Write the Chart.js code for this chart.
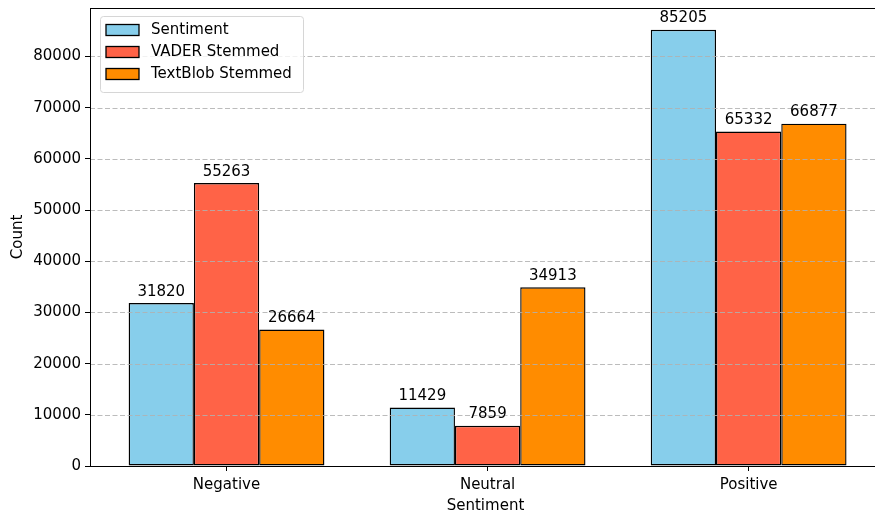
<!DOCTYPE html>
<html>
<head>
<meta charset="utf-8">
<script src="https://cdn.jsdelivr.net/npm/chart.js@4.4.1/dist/chart.umd.min.js"></script>
<style>
  body { margin: 0; overflow: hidden; background: #fff; }
  #wrap { width: 890px; height: 515px; }
</style>
</head>
<body>
<div id="wrap"><canvas id="sentChart" width="890" height="515"></canvas></div>
<script>
// categories and counts per method
var cats = ["Negative", "Neutral", "Positive"];
var seriesNames = ["Sentiment", "VADER Stemmed", "TextBlob Stemmed"];
var sentimentVals = [31820, 11429, 85205];
var vaderVals = [55263, 7859, 65332];
var textblobVals = [26664, 34913, 66877];
var yTicks = [0, 10000, 20000, 30000, 40000, 50000, 60000, 70000, 80000];

var colors = ["#87CEEB", "#FF6347", "#FF8C00"];

function toPoints(vals){
    var pts = [];
    for(var i = 0; i < vals.length; i++){
        pts.push({x: i, y: vals[i]});
    }
    return pts;
}

var allVals = [sentimentVals, vaderVals, textblobVals];
var datasets = [];
for(var d = 0; d < allVals.length; d++){
    datasets.push({
        label: seriesNames[d],
        data: toPoints(allVals[d]),
        backgroundColor: colors[d],
        borderColor: "#000",
        borderWidth: 1.4,
        borderSkipped: false,
        categoryPercentage: 0.75,
        barPercentage: 1.0
    });
}

// grid over bars (matplotlib draws grid above patches), spines, value labels, legend
var extras = {
    id: "extras",
    afterDatasetsDraw: function(chart){
        var ctx = chart.ctx;
        var ca = chart.chartArea;
        var ys = chart.scales.y;
        ctx.save();
        ctx.strokeStyle = "rgba(176,176,176,0.85)";
        ctx.lineWidth = 1;
        ctx.setLineDash([5, 2.5]);
        for(var i = 1; i < yTicks.length; i++){
            var py = Math.round(ys.getPixelForValue(yTicks[i])) + 0.5;
            ctx.beginPath();
            ctx.moveTo(ca.left, py);
            ctx.lineTo(ca.right, py);
            ctx.stroke();
        }
        ctx.setLineDash([]);

        // value labels
        ctx.fillStyle = "#000";
        ctx.font = "15px 'DejaVu Sans'";
        ctx.textAlign = "center";
        ctx.textBaseline = "alphabetic";
        chart.data.datasets.forEach(function(ds, di){
            var meta = chart.getDatasetMeta(di);
            meta.data.forEach(function(bar, j){
                ctx.fillText(String(ds.data[j].y), bar.x, bar.y - 7.5);
            });
        });

        // frame
        ctx.strokeStyle = "#000";
        ctx.lineWidth = 1;
        ctx.strokeRect(Math.round(ca.left) + 0.5, Math.round(ca.top) + 0.5,
                       Math.round(ca.right - ca.left), Math.round(ca.bottom - ca.top));
        ctx.restore();
    },
    afterDraw: function(chart){
        var ctx = chart.ctx;
        var ca = chart.chartArea;
        var bx = ca.left + 10, by = ca.top + 8, bw = 203, bh = 76;
        ctx.save();
        ctx.beginPath();
        ctx.roundRect(bx + 0.5, by + 0.5, bw, bh, 3);
        ctx.fillStyle = "rgba(255,255,255,0.8)";
        ctx.fill();
        ctx.strokeStyle = "#d6d6d6";
        ctx.lineWidth = 1;
        ctx.stroke();
        ctx.font = "15px 'DejaVu Sans'";
        ctx.textBaseline = "middle";
        ctx.textAlign = "left";
        for(var i = 0; i < seriesNames.length; i++){
            var cy = by + 14 + i * 22;
            ctx.fillStyle = colors[i];
            ctx.fillRect(bx + 6, cy - 5.5, 33, 11);
            ctx.strokeStyle = "#000";
            ctx.lineWidth = 1.3;
            ctx.strokeRect(bx + 6, cy - 5.5, 33, 11);
            ctx.fillStyle = "#000";
            ctx.fillText(seriesNames[i], bx + 51, cy);
        }
        ctx.restore();
    }
};

Chart.defaults.font.family = "'DejaVu Sans'";
Chart.defaults.font.size = 15;
Chart.defaults.color = "#000";

var graph = new Chart(document.getElementById("sentChart"), {
    type: "bar",
    data: { datasets: datasets },
    options: {
        responsive: false,
        animation: false,
        layout: { padding: { top: 8, right: 9, left: 0, bottom: 0 } },
        plugins: {
            legend: { display: false },
            tooltip: { enabled: false }
        },
        scales: {
            x: {
                type: "linear",
                min: -0.523,
                max: 2.507,
                offset: false,
                afterBuildTicks: function(scale){
                    scale.ticks = cats.map(function(c, i){ return {value: i}; });
                },
                afterFit: function(scale){ scale.height = 49; },
                ticks: {
                    autoSkip: false,
                    maxRotation: 0,
                    padding: 5,
                    callback: function(v){ return cats[v]; }
                },
                grid: { offset: false, color: "rgba(0,0,0,0)", drawTicks: true, tickLength: 5, tickColor: "#000", tickWidth: 1, tickBorderDash: [] },
                border: { display: true, color: "#000", width: 1 },
                title: { display: true, text: "Sentiment", padding: { top: 0, bottom: 0 } }
            },
            y: {
                min: 0,
                max: 89465,
                afterBuildTicks: function(scale){
                    scale.ticks = yTicks.map(function(v){ return {value: v}; });
                },
                afterFit: function(scale){
                    scale.width = 90;
                    scale.paddingTop = 0;
                    scale.paddingBottom = 0;
                },
                ticks: {
                    padding: 4,
                    callback: function(v){ return String(v); }
                },
                grid: { offset: false, color: "rgba(0,0,0,0)", drawTicks: true, tickLength: 5, tickColor: "#000", tickWidth: 1, tickBorderDash: [] },
                border: { display: true, color: "#000", width: 1 },
                title: { display: true, text: "Count", padding: { top: 9, bottom: 0 } }
            }
        }
    },
    plugins: [extras]
});
</script>
</body>
</html>
